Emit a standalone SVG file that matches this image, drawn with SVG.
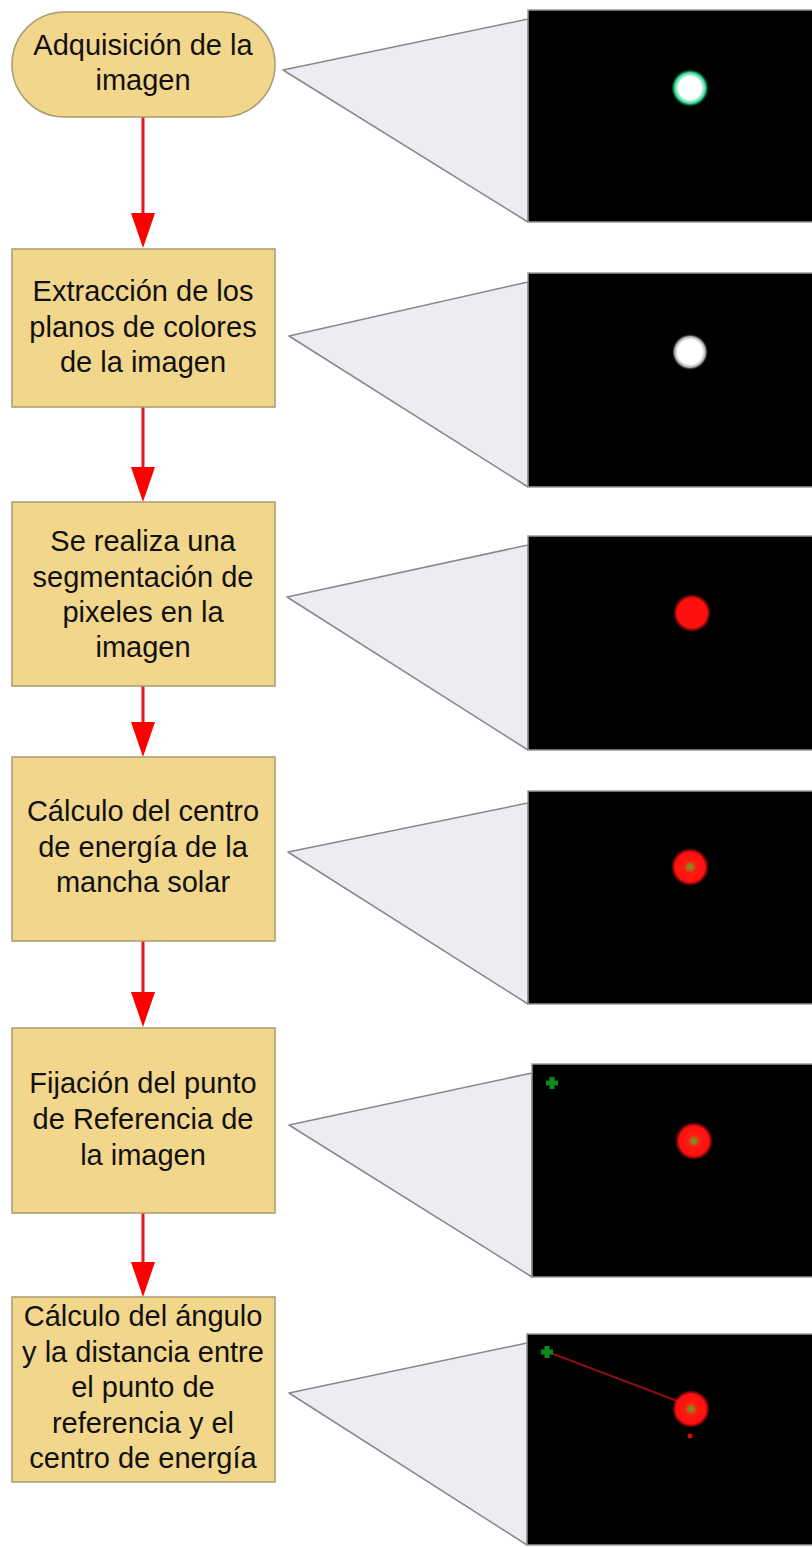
<svg xmlns="http://www.w3.org/2000/svg" width="812" height="1547" viewBox="0 0 812 1547">
<style>
.box{fill:#f2d68c;stroke:#a99c72;stroke-width:1.5}
.t{font-family:"Liberation Sans",Arial,sans-serif;font-size:29px;fill:#111;text-anchor:middle}
.tri{fill:#ececf3;stroke:#888;stroke-width:1.5;stroke-linejoin:round}
.img{fill:#000;stroke:#999;stroke-width:1.5}
.arr{stroke:#e3161c;stroke-width:3;fill:none;marker-end:url(#ah)}
.cross{stroke:#0b8a1e;stroke-width:5}
</style>
<defs>
<marker id="ah" markerUnits="userSpaceOnUse" viewBox="0 0 35 24" markerWidth="35" markerHeight="24" refX="0" refY="12" orient="auto">
<path d="M0,0 L35,12 L0,24 Z" fill="#ff0000"/>
</marker>
<radialGradient id="gw"><stop offset="0.6" stop-color="#ffffff"/><stop offset="0.82" stop-color="#2ad890"/><stop offset="1" stop-color="#0a5030" stop-opacity="0"/></radialGradient>
<radialGradient id="ww"><stop offset="0.68" stop-color="#ffffff"/><stop offset="0.86" stop-color="#aaaaaa"/><stop offset="1" stop-color="#333" stop-opacity="0"/></radialGradient>
<radialGradient id="rr"><stop offset="0.78" stop-color="#ff1010"/><stop offset="1" stop-color="#ff1010" stop-opacity="0"/></radialGradient>
<radialGradient id="rc"><stop offset="0.12" stop-color="#8c8420"/><stop offset="0.32" stop-color="#ff1a10"/><stop offset="0.78" stop-color="#ff1010"/><stop offset="1" stop-color="#ff1010" stop-opacity="0"/></radialGradient>
</defs>

<g id="connectors">
<path class="arr" d="M143,117 V213"/>
<path class="arr" d="M143,407 V467"/>
<path class="arr" d="M143,686 V722"/>
<path class="arr" d="M143,941 V992"/>
<path class="arr" d="M143,1213 V1262"/>
</g>

<g id="n1">
<rect class="box" x="12" y="12" width="263" height="105" rx="52.5" ry="52.5"/>
<text class="t" x="143" y="55">Adquisición de la</text>
<text class="t" x="143" y="90">imagen</text>
</g>
<g id="n2">
<rect class="box" x="12" y="249" width="263" height="158"/>
<text class="t" x="143" y="301">Extracción de los</text>
<text class="t" x="143" y="337">planos de colores</text>
<text class="t" x="143" y="372">de la imagen</text>
</g>
<g id="n3">
<rect class="box" x="12" y="502" width="263" height="184"/>
<text class="t" x="143" y="551">Se realiza una</text>
<text class="t" x="143" y="587">segmentación de</text>
<text class="t" x="143" y="622">pixeles en la</text>
<text class="t" x="143" y="657">imagen</text>
</g>
<g id="n4">
<rect class="box" x="12" y="757" width="263" height="184"/>
<text class="t" x="143" y="821">Cálculo del centro</text>
<text class="t" x="143" y="857">de energía de la</text>
<text class="t" x="143" y="892">mancha solar</text>
</g>
<g id="n5">
<rect class="box" x="12" y="1028" width="263" height="185"/>
<text class="t" x="143" y="1093">Fijación del punto</text>
<text class="t" x="143" y="1129">de Referencia de</text>
<text class="t" x="143" y="1165">la imagen</text>
</g>
<g id="n6">
<rect class="box" x="12" y="1297" width="263" height="185"/>
<text class="t" x="143" y="1326">Cálculo del ángulo</text>
<text class="t" x="143" y="1362">y la distancia entre</text>
<text class="t" x="143" y="1397">el punto de</text>
<text class="t" x="143" y="1433">referencia y el</text>
<text class="t" x="143" y="1468">centro de energía</text>
</g>

<g id="img1">
<polygon class="tri" points="283,70 528,19 528,222"/>
<rect class="img" x="528" y="10" width="290" height="212"/>
<circle cx="690" cy="88" r="19" fill="url(#gw)"/>
</g>
<g id="img2">
<polygon class="tri" points="289,336 528,282 528,487"/>
<rect class="img" x="528" y="273" width="290" height="214"/>
<circle cx="690" cy="352" r="18" fill="url(#ww)"/>
</g>
<g id="img3">
<polygon class="tri" points="287,597 528,545 528,750"/>
<rect class="img" x="528" y="536" width="290" height="214"/>
<circle cx="692" cy="613" r="19" fill="url(#rr)"/>
</g>
<g id="img4">
<polygon class="tri" points="288,852 528,803 528,1004"/>
<rect class="img" x="528" y="791" width="290" height="213"/>
<circle cx="690" cy="867" r="19" fill="url(#rc)"/>
</g>
<g id="img5">
<polygon class="tri" points="289,1125 532,1073 532,1277"/>
<rect class="img" x="532" y="1064" width="290" height="213"/>
<path class="cross" d="M546,1083 h12 M552,1077 v12"/>
<circle cx="694" cy="1141" r="19" fill="url(#rc)"/>
</g>
<g id="img6">
<polygon class="tri" points="289,1393 527,1343 527,1545"/>
<rect class="img" x="527" y="1334" width="290" height="211"/>
<line x1="548" y1="1352" x2="680" y2="1402" stroke="#8a1010" stroke-width="2"/>
<path class="cross" d="M541,1352 h12 M547,1346 v12"/>
<circle cx="691" cy="1409" r="19" fill="url(#rc)"/>
<circle cx="690" cy="1436" r="2.5" fill="#cc1010"/>
</g>
</svg>
